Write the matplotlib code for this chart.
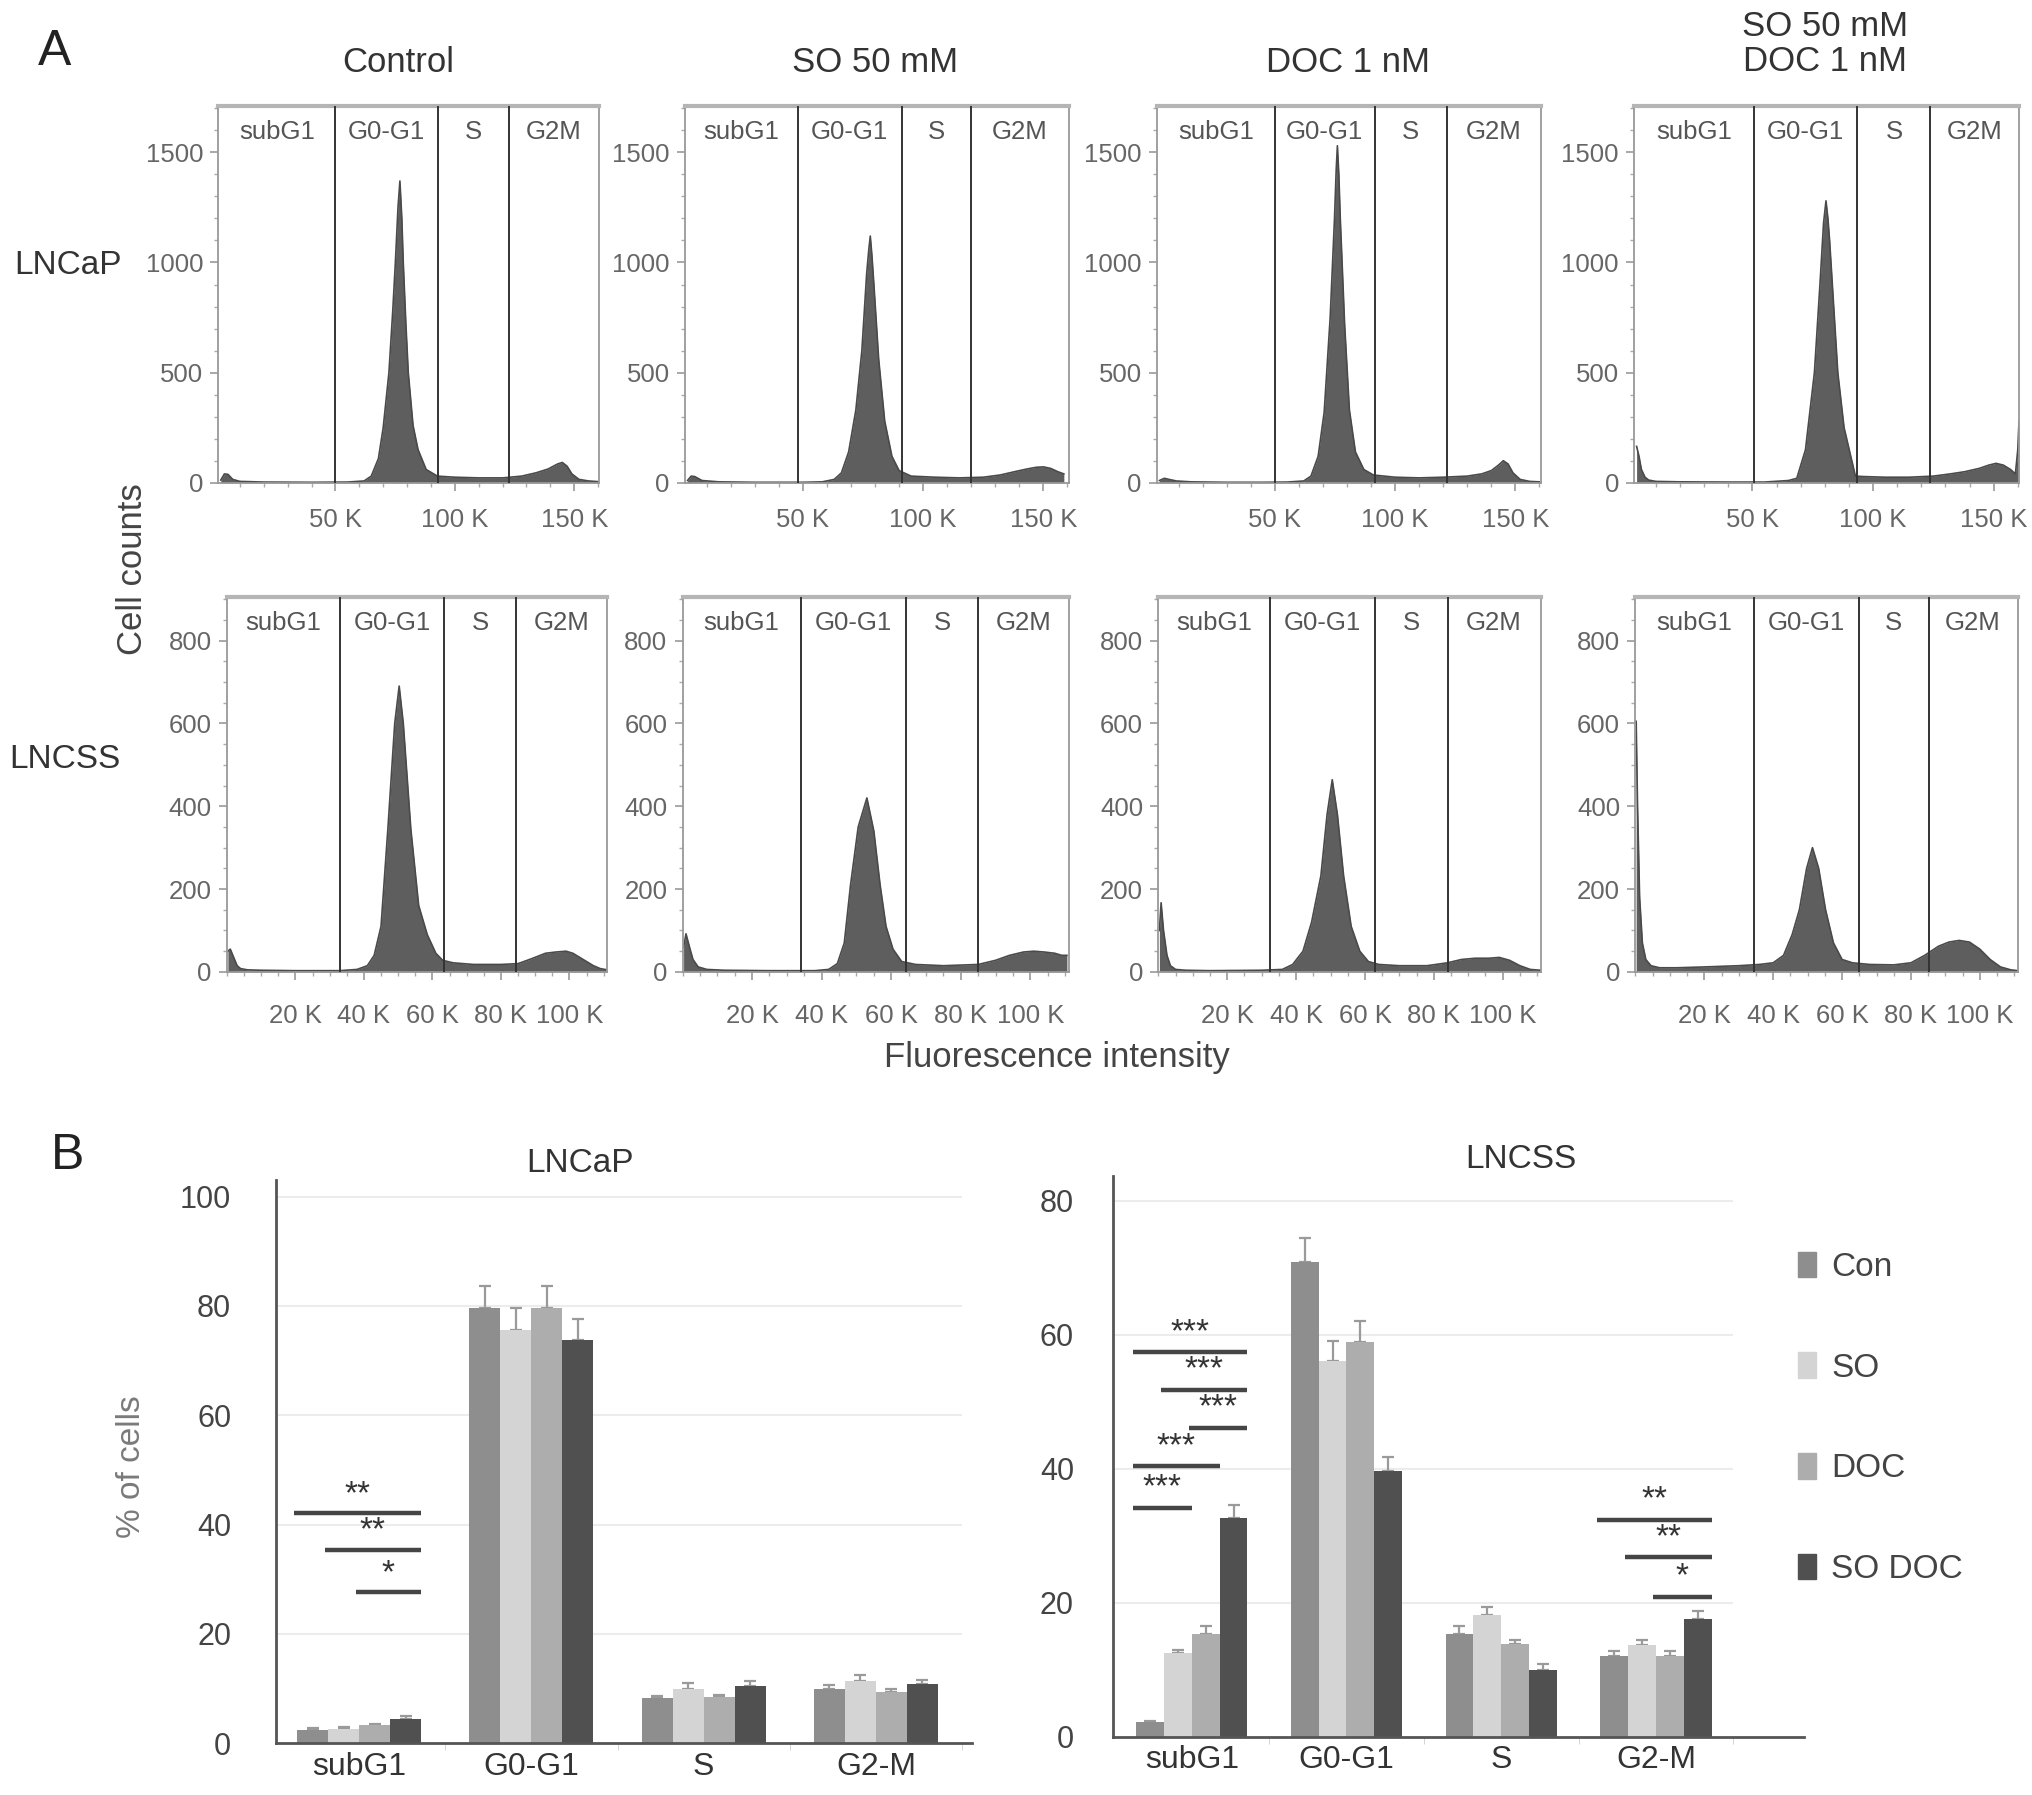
import numpy as np
import matplotlib.pyplot as plt
from matplotlib.ticker import MultipleLocator
from matplotlib.patches import Patch

plt.rcParams['font.family'] = ['Liberation Sans', 'DejaVu Sans']

# ---------------- data: panel A (DNA content histograms, x in K) ----------------
conditions = ['Control', 'SO 50 mM', 'DOC 1 nM', 'SO 50 mM\nDOC 1 nM']
gate_names = ['subG1', 'G0-G1', 'S', 'G2M']

# LNCaP row
lncap_ctrl_x = [2, 3.5, 5, 7, 10, 20, 40, 55, 62, 65, 68, 70, 72.4, 74, 75.1, 76.2, 77, 77.8, 78.4, 79.5,
                80.5, 82.5, 84.6, 88, 92.7, 100, 110, 120, 128, 134, 139, 143, 145, 147, 149, 152, 156, 160]
lncap_ctrl_y = [12, 40, 38, 15, 6, 3, 2, 3, 8, 30, 110, 250, 500, 780, 1000, 1250, 1370, 1200, 1000, 720,
                500, 260, 150, 60, 30, 25, 22, 22, 30, 45, 62, 85, 92, 75, 40, 15, 8, 5]
lncap_so_x = [2, 3.5, 5, 8, 15, 30, 50, 58, 63, 66, 69, 72, 74.5, 76.5, 77.4, 78, 78.7, 79.5, 81.5, 84, 87, 90,
              95, 105, 115, 125, 132, 138, 143, 147, 150, 153, 156, 158.5]
lncap_so_y = [10, 30, 28, 10, 4, 2, 2, 4, 15, 45, 140, 330, 600, 950, 1060, 1120, 1030, 900, 560, 280, 120, 55,
              30, 25, 22, 25, 35, 50, 62, 70, 72, 65, 50, 40]
lncap_doc_x = [2, 4, 6, 9, 15, 30, 45, 55, 62, 65, 68, 70.5, 73, 74.8, 75.5, 76, 76.6, 77.2, 79, 81, 83.5, 87,
               91, 100, 110, 120, 130, 136, 140, 143, 145, 147, 149, 152, 156, 160]
lncap_doc_y = [10, 20, 15, 8, 4, 2, 2, 3, 8, 30, 120, 320, 750, 1200, 1420, 1530, 1400, 1200, 720, 330, 140, 60,
               35, 25, 22, 25, 30, 40, 55, 80, 100, 85, 45, 15, 6, 4]
lncap_sodoc_x = [2, 3, 4, 5.5, 7, 10, 20, 40, 55, 65, 68.4, 72, 75.7, 78, 79.5, 80.5, 81.3, 82, 85.4, 88, 92.7,
                 96, 105, 115, 125, 132, 138, 144, 148, 151, 154, 157, 159, 160, 160.5]
lncap_sodoc_y = [165, 120, 60, 25, 12, 6, 4, 3, 3, 10, 20, 150, 500, 900, 1180, 1280, 1200, 1100, 500, 250, 30,
                 28, 25, 25, 30, 40, 50, 65, 80, 88, 80, 60, 40, 150, 280]

# LNCSS row
lncss_ctrl_x = [0.3, 1, 2, 3, 4, 6, 10, 20, 33, 38, 41, 43, 45, 47, 49, 50.3, 51.5, 53.7, 56, 58.5,
                61, 63, 66, 72, 80, 85, 89, 93, 96, 99, 101, 103, 105, 107, 109, 111]
lncss_ctrl_y = [50, 55, 35, 15, 8, 5, 4, 3, 3, 6, 15, 40, 110, 345, 600, 690, 600, 345, 160, 90,
                45, 28, 22, 18, 18, 20, 32, 45, 48, 50, 45, 35, 25, 15, 8, 5]
lncss_so_x = [0.3, 1, 2, 3, 4.5, 7, 12, 25, 38, 42, 44.5, 46.5, 48.3, 50.5, 53, 55, 56.8, 58.5, 60.5, 63,
              67, 75, 85, 90, 94, 98, 101, 104, 107, 109, 110.5]
lncss_so_y = [60, 92, 60, 30, 12, 6, 4, 3, 3, 6, 20, 70, 210, 350, 420, 340, 210, 110, 55, 25,
              18, 15, 18, 28, 40, 48, 50, 48, 45, 40, 40]
lncss_doc_x = [0.3, 0.8, 1.5, 2.5, 3.5, 5, 8, 15, 30, 36, 39, 42, 44.5, 47.2, 49, 50.5, 52, 53.8, 56, 58.5,
               61, 64, 70, 78, 84, 88, 92, 96, 99, 102, 105, 108, 111]
lncss_doc_y = [100, 167, 100, 40, 15, 6, 4, 3, 4, 6, 18, 50, 120, 232, 380, 464, 380, 232, 110, 50,
               25, 18, 15, 15, 22, 30, 33, 33, 35, 28, 15, 6, 4]
lncss_sodoc_x = [0.2, 0.6, 1.2, 2, 3, 4.5, 7, 12, 20, 30, 36, 40, 43, 45.5, 47.6, 49.7, 51.4, 53.2, 55.2, 57.5,
                 60, 63, 68, 75, 80, 84, 88, 91, 94, 97, 100, 103, 106, 109, 111]
lncss_sodoc_y = [605, 400, 180, 70, 30, 15, 10, 10, 12, 15, 18, 22, 40, 90, 150, 250, 300, 250, 150, 70,
                 30, 22, 18, 17, 22, 40, 62, 72, 76, 72, 55, 30, 12, 5, 3]

# gate boundaries (K)
lncap_gates = [[50, 93, 122.5], [48, 91, 120], [50, 91.5, 121.5], [50.5, 93.5, 123.8]]
lncss_gates = [[33, 63.5, 84.5], [34, 64.3, 85], [32.5, 63, 84], [34.3, 64.8, 85.1]]

# ---------------- data: panel B (% of cells) ----------------
phases = ['subG1', 'G0-G1', 'S', 'G2-M']
groups = ['Con', 'SO', 'DOC', 'SO DOC']

lncap_con = [2.5, 79.6, 8.2, 10.0]
lncap_so = [2.6, 75.6, 10.0, 11.3]
lncap_doc = [3.3, 79.6, 8.4, 9.4]
lncap_sodoc = [4.5, 73.8, 10.5, 10.9]
lncap_con_err = [0.3, 4.1, 0.4, 0.6]
lncap_so_err = [0.3, 4.0, 1.0, 1.2]
lncap_doc_err = [0.3, 4.1, 0.4, 0.6]
lncap_sodoc_err = [0.4, 3.9, 0.8, 0.6]

lncss_con = [2.2, 70.8, 15.3, 12.0]
lncss_so = [12.5, 56.0, 18.1, 13.7]
lncss_doc = [15.3, 58.9, 13.8, 12.0]
lncss_sodoc = [32.7, 39.7, 9.9, 17.6]
lncss_con_err = [0.2, 3.6, 1.2, 0.8]
lncss_so_err = [0.5, 3.0, 1.2, 0.8]
lncss_doc_err = [1.2, 3.2, 0.7, 0.8]
lncss_sodoc_err = [1.9, 2.1, 1.0, 1.2]

# significance: (phase index, from bar, to bar, y, stars)
lncap_sig = [(0, 0, 3, 42.1, '**'), (0, 1, 3, 35.4, '**'), (0, 2, 3, 27.6, '*')]
lncss_sig = [(0, 0, 3, 57.4, '***'), (0, 1, 3, 51.8, '***'), (0, 2, 3, 46.1, '***'),
             (0, 0, 2, 40.4, '***'), (0, 0, 1, 34.2, '***'),
             (3, 0, 3, 32.4, '**'), (3, 1, 3, 26.8, '**'), (3, 2, 3, 20.9, '*')]

bar_colors = ['#8e8e8e', '#d4d4d4', '#adadad', '#505050']

# ---------------- layout helpers ----------------
W, H = 1563, 1387  # layout grid (reference at reduced scale)


def box(l, t, r, b):
    return [l / W, 1 - b / H, (r - l) / W, (b - t) / H]


fig = plt.figure(figsize=(20.32, 17.95), dpi=100)

row1_boxes = [box(168, 82, 461, 373), box(527, 82, 822, 373), box(890, 82, 1185, 373), box(1257, 82, 1553, 373)]
row2_boxes = [box(174.5, 461, 467, 751), box(525, 461, 822, 751), box(891, 461, 1185, 751), box(1258, 461, 1552, 751)]

row1 = [(lncap_ctrl_x, lncap_ctrl_y), (lncap_so_x, lncap_so_y), (lncap_doc_x, lncap_doc_y), (lncap_sodoc_x, lncap_sodoc_y)]
row2 = [(lncss_ctrl_x, lncss_ctrl_y), (lncss_so_x, lncss_so_y), (lncss_doc_x, lncss_doc_y), (lncss_sodoc_x, lncss_sodoc_y)]


def histo(ax, x, y, gates, xlim, ylim, xmaj, xmin_, ymaj, ymin_, xpad):
    ax.fill_between(x, y, 0, color='#5e5e5e', lw=0, zorder=2)
    ax.plot(x, y, color='#4a4a4a', lw=1.2, zorder=2)
    for g in gates:
        ax.axvline(g, color='#333333', lw=1.4, zorder=3)
    # gate labels centred in each region
    edges = [xlim[0]] + list(gates) + [xlim[1]]
    for i, name in enumerate(gate_names):
        ax.text((edges[i] + edges[i + 1]) / 2, 0.93, name, transform=ax.get_xaxis_transform(),
                ha='center', va='center', fontsize=18.5, color='#555555')
    ax.set_xlim(*xlim)
    ax.set_ylim(*ylim)
    ax.xaxis.set_major_locator(MultipleLocator(xmaj))
    ax.xaxis.set_minor_locator(MultipleLocator(xmin_))
    ax.yaxis.set_major_locator(MultipleLocator(ymaj))
    ax.yaxis.set_minor_locator(MultipleLocator(ymin_))
    ax.set_xticks([t for t in ax.get_xticks() if xlim[0] < t < xlim[1] and t > 0])
    ax.set_xticklabels(['%d K' % t for t in ax.get_xticks()])
    for s in ['left', 'right', 'bottom']:
        ax.spines[s].set_color('#999999')
        ax.spines[s].set_linewidth(1.3)
    ax.spines['top'].set_color('#b5b5b5')
    ax.spines['top'].set_linewidth(3)
    ax.tick_params(which='major', direction='out', length=6, width=1.2, color='#999999',
                   labelcolor='#666666', labelsize=18.5)
    ax.tick_params(which='minor', direction='out', length=3, width=1, color='#aaaaaa')
    ax.tick_params(axis='x', pad=xpad)
    ax.tick_params(axis='y', pad=5)


for i in range(4):
    ax = fig.add_axes(row1_boxes[i])
    histo(ax, row1[i][0], row1[i][1], lncap_gates[i], (1, 160.5), (0, 1710), 50, 10, 500, 100, 12)
    ax = fig.add_axes(row2_boxes[i])
    histo(ax, row2[i][0], row2[i][1], lncss_gates[i], (0, 111), (0, 906), 20, 5, 200, 50, 17)

# panel A labels
title_x = [306, 673, 1037, 1404]
for i, c in enumerate(conditions):
    ty = 48 if '\n' not in c else 34
    fig.text(title_x[i] / W, 1 - ty / H, c, ha='center', va='center', fontsize=25,
             color='#333333', linespacing=1.1)
fig.text(42 / W, 1 - 40 / H, 'A', ha='center', va='center', fontsize=36, color='#222222')
fig.text(52 / W, 1 - 205 / H, 'LNCaP', ha='center', va='center', fontsize=24, color='#333333')
fig.text(50 / W, 1 - 587 / H, 'LNCSS', ha='center', va='center', fontsize=24, color='#333333')
fig.text(102 / W, 1 - 440 / H, 'Cell counts', ha='center', va='center', rotation=90,
         fontsize=25, color='#444444')
fig.text(813 / W, 1 - 817 / H, 'Fluorescence intensity', ha='center', va='center',
         fontsize=25, color='#444444')

# ---------------- panel B ----------------
offsets = [-0.27, -0.09, 0.09, 0.27]
bw = 0.18


def bars(ax, vals, errs, sig, ylim, xlim, yticks, title, tx, ypad):
    xs = np.arange(len(phases))
    for k in range(4):
        ax.bar(xs + offsets[k], vals[k], bw, color=bar_colors[k], zorder=2, label=groups[k])
        ax.errorbar(xs + offsets[k], vals[k], yerr=[np.zeros(4), errs[k]], fmt='none',
                    ecolor='#9a9a9a', elinewidth=1.6, capsize=4, capthick=1.6, zorder=1.5)
    ax.hlines(yticks[1:], -0.5, 3.5, color='#ececec', lw=1.5, zorder=0)
    for (p, a, b, y, s) in sig:
        x0 = p + offsets[a] - bw / 2 - 0.02
        x1 = p + offsets[b] + bw / 2
        ax.plot([x0, x1], [y, y], color='#454545', lw=3.2, solid_capstyle='butt', zorder=3)
        ax.text((x0 + x1) / 2, y + 0.6, s, ha='center', va='bottom', fontsize=24, color='#333333')
    ax.set_xlim(*xlim)
    ax.set_ylim(*ylim)
    ax.set_yticks(yticks)
    ax.set_xticks(xs)
    ax.set_xticklabels(phases)
    ax.set_xticks([0.5, 1.5, 2.5, 3.5], minor=True)
    for s in ['top', 'right']:
        ax.spines[s].set_visible(False)
    ax.spines['left'].set_color('#555555')
    ax.spines['left'].set_linewidth(2)
    ax.spines['bottom'].set_color('#555555')
    ax.spines['bottom'].set_linewidth(2)
    ax.tick_params(axis='y', length=0, labelsize=22, labelcolor='#444444', pad=ypad)
    ax.tick_params(axis='x', which='major', length=0, labelsize=23, labelcolor='#333333', pad=6)
    ax.tick_params(axis='x', which='minor', length=5, color='#cccccc')
    ax.set_title(title, fontsize=24, color='#333333', x=tx, pad=6)


ax_b1 = fig.add_axes(box(212, 912, 748, 1347))
bars(ax_b1, [lncap_con, lncap_so, lncap_doc, lncap_sodoc],
     [lncap_con_err, lncap_so_err, lncap_doc_err, lncap_sodoc_err],
     lncap_sig, (0, 103), (-0.485, 3.56), [0, 20, 40, 60, 80, 100], 'LNCaP',
     (446 - 212) / (748 - 212), 32)

ax_b2 = fig.add_axes(box(856, 909, 1388, 1342))
bars(ax_b2, [lncss_con, lncss_so, lncss_doc, lncss_sodoc],
     [lncss_con_err, lncss_so_err, lncss_doc_err, lncss_sodoc_err],
     lncss_sig, (0, 83.6), (-0.51, 3.96), [0, 20, 40, 60, 80], 'LNCSS',
     (1170 - 856) / (1388 - 856), 28)

handles = [Patch(color=c) for c in bar_colors]
fig.legend(handles, groups, loc='upper left', bbox_to_anchor=(1360 / W, 1 - 944 / H),
           frameon=False, fontsize=24, labelspacing=2.08, handlelength=0.55, handleheight=0.8,
           handletextpad=0.45, labelcolor='#444444')

fig.text(52 / W, 1 - 893 / H, 'B', ha='center', va='center', fontsize=36, color='#222222')
fig.text(101 / W, 1 - 1133 / H, '% of cells', ha='center', va='center', rotation=90,
         fontsize=24, color='#7a7a7a')

fig.savefig('out.png', dpi=100)
